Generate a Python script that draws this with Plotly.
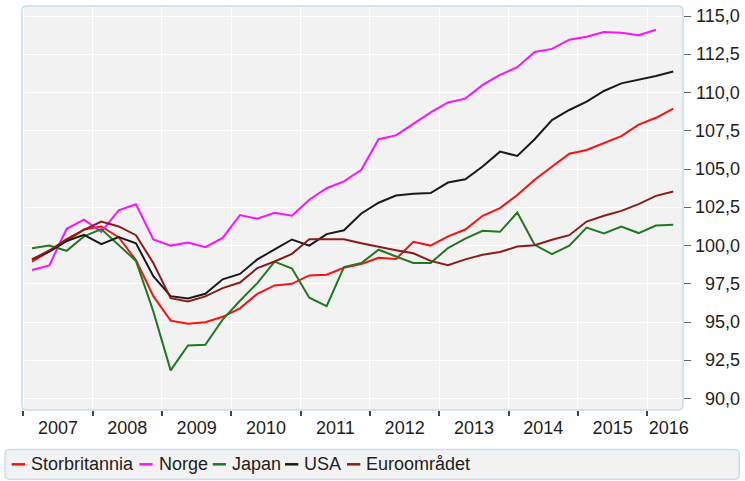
import plotly.graph_objects as go

# ---------------- data ----------------
start_year = 2007
storbritannia = [98.95, 99.6, 100.3, 101.05, 101.25, 100.55, 99.05, 96.7, 95.1, 94.9,
                 95.0, 95.35, 95.9, 96.85, 97.4, 97.5, 98.05, 98.1, 98.55, 98.8,
                 99.2, 99.12, 100.25, 100.0, 100.6, 101.05, 101.95, 102.45, 103.3, 104.3,
                 105.15, 106.0, 106.25, 106.7, 107.15, 107.9, 108.35, 108.95]
norge = [98.4, 98.7, 101.1, 101.7, 100.9, 102.3, 102.7, 100.4, 100.0, 100.2,
         99.9, 100.5, 102.0, 101.75, 102.15, 101.95, 103.0, 103.75, 104.2, 104.95,
         106.95, 107.2, 107.95, 108.7, 109.35, 109.6, 110.5, 111.15, 111.65, 112.65,
         112.85, 113.45, 113.65, 113.95, 113.9, 113.75, 114.1]
japan = [99.82, 100.0, 99.66, 100.6, 101.08, 100.05, 99.0, 95.7, 91.85, 93.48,
         93.52, 95.16, 96.4, 97.55, 98.95, 98.5, 96.6, 96.05, 98.6, 98.86,
         99.73, 99.29, 98.86, 98.86, 99.84, 100.45, 100.97, 100.9, 102.16, 100.05,
         99.44, 100.0, 101.18, 100.79, 101.25, 100.82, 101.31, 101.37]
usa = [99.1, 99.6, 100.3, 100.7, 100.1, 100.55, 100.15, 98.0, 96.7, 96.55,
       96.85, 97.8, 98.15, 99.1, 99.75, 100.4, 100.0, 100.75, 101.0, 102.1,
       102.8, 103.27, 103.38, 103.43, 104.12, 104.33, 105.17, 106.14, 105.86, 106.95,
       108.2, 108.86, 109.41, 110.1, 110.6, 110.82, 111.08, 111.37]
euro = [99.1, 99.68, 100.42, 101.03, 101.57, 101.25, 100.68, 98.86, 96.57, 96.35,
        96.68, 97.22, 97.59, 98.53, 98.96, 99.46, 100.42, 100.42, 100.42, 100.15,
        99.95, 99.7, 99.5, 99.0, 98.72, 99.1, 99.4, 99.58, 99.94, 100.03,
        100.38, 100.68, 101.57, 101.95, 102.27, 102.71, 103.25, 103.53]

series_names = ["Storbritannia", "Norge", "Japan", "USA", "Euroområdet"]
series_values = [storbritannia, norge, japan, usa, euro]
series_colors = ["#ff1010", "#ff10ff", "#1e7a1e", "#1a1a1a", "#8c1c1c"]

years = list(range(2007, 2017))
year_labels = [str(y) for y in years]
y_ticks = [90.0, 92.5, 95.0, 97.5, 100.0, 102.5, 105.0, 107.5, 110.0, 112.5, 115.0]

# ---------------- layout geometry (pixels) ----------------
W, H = 745, 481
L, R, T, B = 22, 683, 6, 410          # plot area edges in px
PW, PH = R - L, B - T
FONT = "Liberation Sans, Arial, sans-serif"
TXT = "#1e1e1e"
BORDER = "#c6e0ec"


def px(x):
    return (x - L) / PW


def py(y):
    return (B - y) / PH


def rounded_rect(x0, y0, x1, y1, r):
    rx, ry = r / PW, r / PH
    a, b, c, d = px(x0), py(y1), px(x1), py(y0)   # a,b bottom-left ; c,d top-right
    return (f"M {a+rx},{b} L {c-rx},{b} Q {c},{b} {c},{b+ry} L {c},{d-ry} "
            f"Q {c},{d} {c-rx},{d} L {a+rx},{d} Q {a},{d} {a},{d-ry} "
            f"L {a},{b+ry} Q {a},{b} {a+rx},{b} Z")


fig = go.Figure()
for name, vals, col in zip(series_names, series_values, series_colors):
    xs = [start_year + i * 0.25 + 0.125 for i in range(len(vals))]
    fig.add_trace(go.Scatter(x=xs, y=vals, mode="lines", name=name,
                             line=dict(color=col, width=2), showlegend=False))

label_pos = [y + 0.5 for y in years[:-1]] + [years[-1] + 0.31]

fig.update_layout(
    width=W, height=H,
    margin=dict(l=L, r=W - R, t=T, b=H - B),
    paper_bgcolor="white", plot_bgcolor="#f2f2f2",
    font=dict(family=FONT, size=18, color=TXT),
    xaxis=dict(range=[2006.981, 2016.515], tickmode="array", tickvals=label_pos,
               ticktext=year_labels, ticks="", showgrid=False, zeroline=False,
               showline=False, tickfont=dict(size=18, color=TXT),
               ticklabelstandoff=5,
               minor=dict(tickmode="array", tickvals=years, ticks="outside",
                          ticklen=5, tickwidth=1.5, tickcolor="#444",
                          showgrid=True, gridcolor="white", gridwidth=1.2)),
    yaxis=dict(range=[89.26, 115.653], side="right", tickmode="array",
               tickvals=y_ticks, showticklabels=False, ticks="outside",
               ticklen=7, tickwidth=1.2, tickcolor="#666",
               showgrid=True, gridcolor="white", gridwidth=1.2,
               zeroline=False, showline=False),
)

# y tick labels (right-aligned, decimal comma)
for v in y_ticks:
    fig.add_annotation(x=px(741.7), xref="paper", y=v, yref="y",
                       text=f"{v:.1f}".replace(".", ","), showarrow=False,
                       xanchor="right", yanchor="middle",
                       font=dict(size=18, color=TXT, family=FONT))

shapes = []
# plot area border
shapes.append(dict(type="path", xref="paper", yref="paper",
                   path=rounded_rect(L, T, R, B, 5),
                   line=dict(color=BORDER, width=1.5), layer="above"))
# legend box
shapes.append(dict(type="path", xref="paper", yref="paper",
                   path=rounded_rect(5, 449.5, 739.3, 479.3, 5),
                   line=dict(color=BORDER, width=1.5), fillcolor="#f2f2f2",
                   layer="below"))

sw_start = [11.7, 139.3, 212.7, 285.0, 347.0]
leg_y = 464.3
for name, col, sx in zip(series_names, series_colors, sw_start):
    shapes.append(dict(type="line", xref="paper", yref="paper",
                       x0=px(sx), x1=px(sx + 13.3), y0=py(leg_y), y1=py(leg_y),
                       line=dict(color=col, width=2.5), layer="above"))
    fig.add_annotation(x=px(sx + 17.3), xref="paper", y=py(leg_y), yref="paper",
                       text=name, showarrow=False, xanchor="left", yanchor="middle",
                       font=dict(size=18, color=TXT, family=FONT))

fig.update_layout(shapes=shapes)
fig.write_html("out.html")
